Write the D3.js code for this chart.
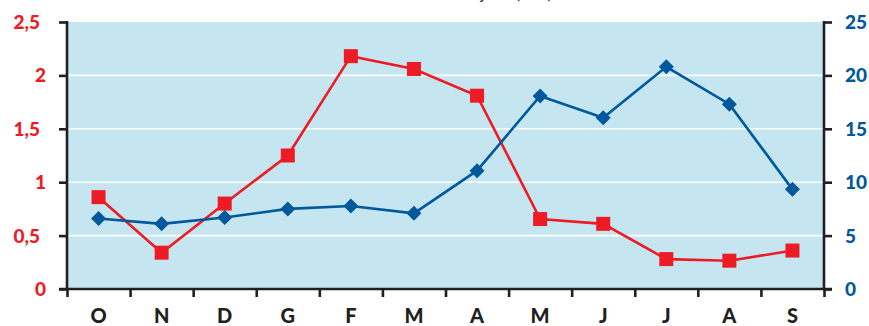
<!DOCTYPE html>
<html><head><meta charset="utf-8">
<script src="https://cdn.jsdelivr.net/npm/d3@7"></script>
<style>html,body{margin:0;padding:0;background:#fff;}svg{display:block;font-family:Lato,"Open Sans",sans-serif;}</style>
</head><body>
<svg id="c" width="869" height="326"></svg>
<script>
const months = ["O","N","D","G","F","M","A","M","J","J","A","S"];
const redValues = [0.86,0.34,0.80,1.25,2.18,2.06,1.81,0.655,0.61,0.28,0.265,0.36];
const blueValues = [6.6,6.1,6.7,7.5,7.77,7.09,11.08,18.07,16.04,20.8,17.3,9.33];
const leftTicks = [0,0.5,1,1.5,2,2.5];
const rightTicks = [0,5,10,15,20,25];
const titleText = "Cabal mitjana (mm)";

const svg = d3.select("#c");
const L = 67, R = 824, T = 22, B = 289;
const x = d3.scaleBand().domain(d3.range(months.length)).range([L, R]);
const yL = d3.scaleLinear().domain([0, 2.5]).range([B, T]);
const yR = d3.scaleLinear().domain([0, 25]).range([B, T]);
const red = "#ed1c24", blue = "#00589c";

svg.append("text").attr("x", 552).attr("y", -1).attr("text-anchor", "end")
  .attr("font-size", 17).attr("fill", "#333").text(titleText);

svg.append("rect").attr("x", L).attr("y", T).attr("width", R - L).attr("height", B - T).attr("fill", "#c5e6f0");
svg.append("g").selectAll("line").data(leftTicks.filter(d => d > 0 && d < 2.5)).join("line")
  .attr("x1", L).attr("x2", R).attr("y1", d => yL(d)).attr("y2", d => yL(d))
  .attr("stroke", "#fff").attr("stroke-width", 1.6);

// axes
const axisColor = "#231f20";
const gL = svg.append("g").attr("transform", `translate(${L},0)`)
  .call(d3.axisLeft(yL).tickValues(leftTicks).tickSize(8).tickFormat(""));
const gR = svg.append("g").attr("transform", `translate(${R},0)`)
  .call(d3.axisRight(yR).tickValues(rightTicks).tickSize(8).tickFormat(""));
const bandEdges = d3.range(months.length + 1).map(i => L + i * x.step());
const xEdge = d3.scaleLinear().domain([L, R]).range([L, R]);
const gB = svg.append("g").attr("transform", `translate(0,${B})`)
  .call(d3.axisBottom(xEdge).tickValues(bandEdges).tickSize(8).tickFormat(""));
[gL, gR, gB].forEach(g => {
  g.selectAll("path").attr("stroke", axisColor).attr("stroke-width", 2.6);
  g.selectAll("line").attr("stroke", axisColor).attr("stroke-width", 2.6);
});
gL.select("path").attr("d", `M0,${B + 1}V${T - 1}`);
gR.select("path").attr("d", `M0,${B + 1}V${T - 1}`);
gB.select("path").attr("d", `M${L - 8},0H${R + 8}`);

// tick labels
const fmtL = d => String(d).replace(".", ",");
svg.append("g").selectAll("text").data(leftTicks).join("text")
  .attr("x", d => (d % 1 ? 40 : 46)).attr("y", d => yL(d) + 7)
  .attr("text-anchor", "end").attr("font-size", 19).attr("font-weight", 900)
  .attr("fill", red).text(fmtL);
svg.append("g").selectAll("text").data(rightTicks).join("text")
  .attr("x", 845).attr("y", d => yR(d) + 7)
  .attr("text-anchor", "start").attr("font-size", 19).attr("font-weight", 900)
  .attr("fill", blue).text(d => d);
svg.append("g").selectAll("text").data(months).join("text")
  .attr("x", (d, i) => x(i) + x.bandwidth() / 2).attr("y", 323)
  .attr("text-anchor", "middle").attr("font-size", 20).attr("font-weight", 900)
  .attr("fill", axisColor).text(d => d);

// lines
const cx = i => x(i) + x.bandwidth() / 2;
svg.append("path").datum(redValues)
  .attr("d", d3.line().x((d, i) => cx(i)).y(d => yL(d)))
  .attr("fill", "none").attr("stroke", red).attr("stroke-width", 2.6);
svg.append("path").datum(blueValues)
  .attr("d", d3.line().x((d, i) => cx(i)).y(d => yR(d)))
  .attr("fill", "none").attr("stroke", blue).attr("stroke-width", 2.6);

// markers
svg.append("g").selectAll("rect").data(redValues).join("rect")
  .attr("x", (d, i) => cx(i) - 7).attr("y", d => yL(d) - 7)
  .attr("width", 14).attr("height", 14).attr("fill", red);
svg.append("g").selectAll("path").data(blueValues).join("path")
  .attr("d", (d, i) => { const px = cx(i), py = yR(d), r = 7.5; return `M${px},${py - r}L${px + r},${py}L${px},${py + r}L${px - r},${py}Z`; })
  .attr("fill", blue);
</script>
</body></html>
